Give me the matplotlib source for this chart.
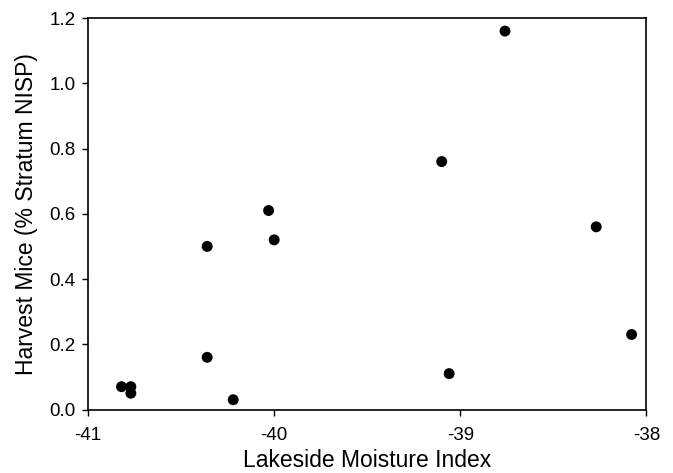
import matplotlib
matplotlib.use("Agg")
import matplotlib.pyplot as plt

plt.rcParams['font.family'] = ['Liberation Sans', 'DejaVu Sans']

# lakeside moisture index vs harvest mice abundance per stratum
moisture = [-40.82, -40.77, -40.77, -40.36, -40.22, -38.76, -38.27, -38.08,
            -40.36, -40.03, -40.00, -39.10, -39.06]
mice_pct = [0.07, 0.07, 0.05, 0.16, 0.03, 1.16, 0.56, 0.23,
            0.50, 0.61, 0.52, 0.76, 0.11]

x_ticks = [-41, -40, -39, -38]
y_ticks = [0.0, 0.2, 0.4, 0.6, 0.8, 1.0, 1.2]

fig = plt.figure(figsize=(6.73, 4.73), dpi=100)
ax = fig.add_axes([0.1308, 0.1342, 0.8298, 0.8277])

ax.scatter(moisture, mice_pct, s=62, c='black', edgecolors='none', zorder=3)

ax.set_xlim(-41, -38)
ax.set_ylim(0, 1.2)
ax.set_xticks(x_ticks)
ax.set_xticklabels([str(t) for t in x_ticks])
ax.set_yticks(y_ticks)
ax.set_yticklabels(['%.1f' % t for t in y_ticks])

for sp in ax.spines.values():
    sp.set_linewidth(1.2)
ax.tick_params(direction='out', length=4.3, width=1, labelsize=13.5)
ax.tick_params(axis='y', pad=4.5)
ax.tick_params(axis='x', pad=8)

ax.set_xlabel('Lakeside Moisture Index', fontsize=16.5, labelpad=4)
ax.set_ylabel('Harvest Mice (% Stratum NISP)', fontsize=16.5, labelpad=8)

fig.savefig('out.png', dpi=100)
